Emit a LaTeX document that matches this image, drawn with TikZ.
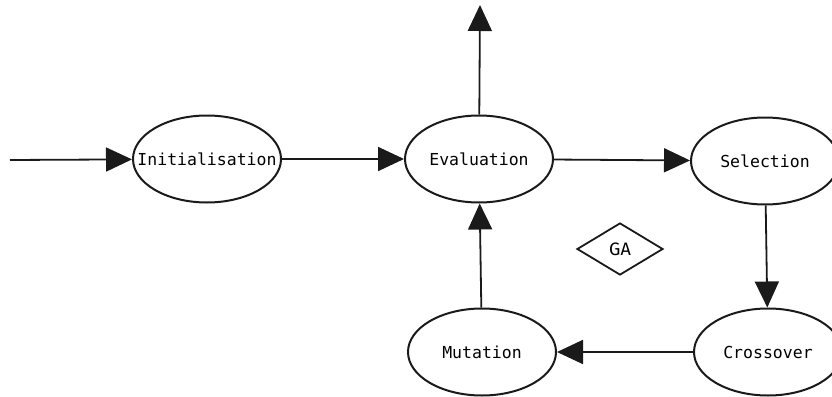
\documentclass[tikz,border=0pt]{standalone}
\usepackage{fontspec}
\usepackage{tikz}
\usetikzlibrary{positioning, arrows.meta, shapes.geometric}
\usepackage{xcolor}

\newfontfamily\stagefont{DejaVu Sans Mono}
\newfontfamily\gafont{Fira Sans}
\definecolor{ink}{HTML}{1A1A1A}

\tikzset{
    stage/.style={ellipse, draw=ink, line width=2pt, inner sep=0pt,
        minimum width=148pt, minimum height=87pt,
        font=\stagefont\fontsize{16.5}{19}\selectfont},
    gabox/.style={diamond, draw=ink, line width=1.8pt, inner sep=0pt,
        minimum width=86pt, minimum height=52pt,
        font=\gafont\fontsize{18}{21}\selectfont}
}

\begin{document}
\begin{tikzpicture}[x=1pt, y=-1pt, node distance=272pt, on grid,
    >={Triangle[length=26pt, width=24pt]}, line width=1.8pt]
    \useasboundingbox (0,0) rectangle (832,396);

    \node[stage] (init) at (207,159) {\makebox[0pt]{Initialisation}};
    \node[stage] (eval) [right=of init] {\makebox[0pt]{Evaluation}};
    \node[stage] (sel) [below right=2pt and 286pt of eval] {\makebox[0pt]{Selection}};
    \node[stage] (cross) [below right=191pt and 3pt of sel] {\makebox[0pt]{Crossover}};
    \node[stage] (mut) [left=286pt of cross] {\makebox[0pt]{Mutation}};
    \node[gabox] (ga) at (620,249) {GA};

    \coordinate (entry) at (10,160);
    \coordinate (exit) at (480,5);

    \path[every edge/.style={draw=ink, ->}]
        (entry) edge (init)
        (init) edge (eval)
        (eval) edge (exit)
               edge (sel)
        (sel) edge (cross)
        (cross) edge (mut)
        (mut) edge (eval);
\end{tikzpicture}
\end{document}
